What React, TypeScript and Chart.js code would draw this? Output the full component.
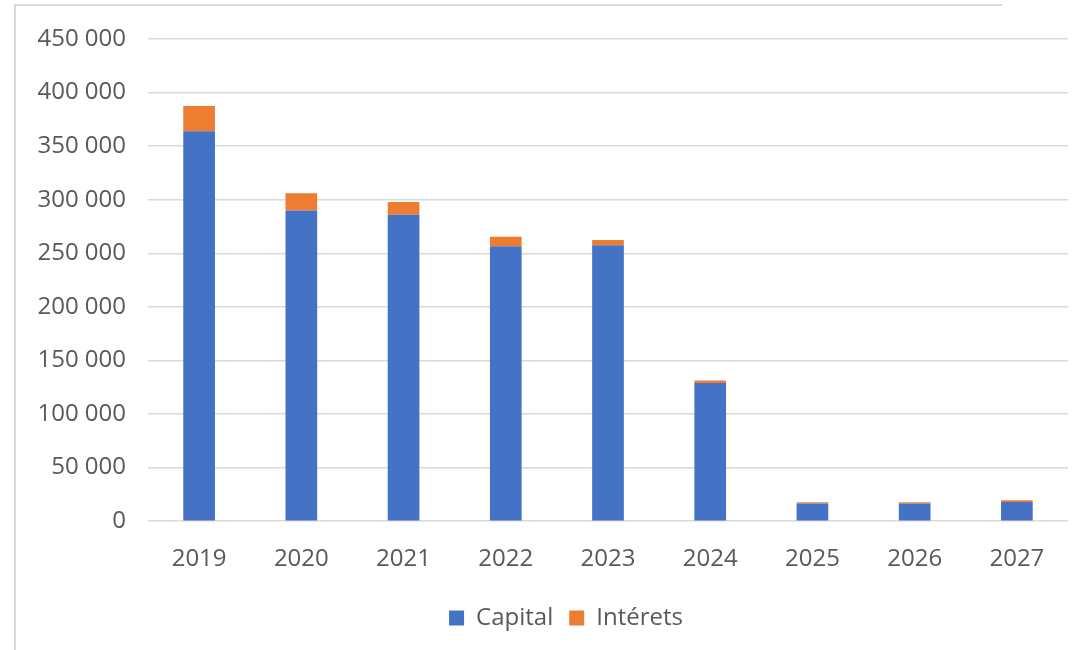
import React, { useEffect, useRef } from "react";
import { Chart, registerables } from "chart.js";

Chart.register(...registerables);

const categories = ["2019", "2020", "2021", "2022", "2023", "2024", "2025", "2026", "2027"];
const capital = [364000, 290000, 286000, 256500, 257500, 129000, 16500, 16500, 18000];
const interets = [23500, 16000, 12000, 9000, 5000, 2200, 1200, 1200, 1600];
const yTicks = [0, 50000, 100000, 150000, 200000, 250000, 300000, 350000, 400000, 450000];

const FONT = "'Open Sans', 'Liberation Sans', sans-serif";
const TEXT = "#595959";

function fmt(v: number): string {
  return String(v).replace(/\B(?=(\d{3})+(?!\d))/g, " ");
}

const legendShift = {
  id: "legendShift",
  afterLayout(chart: any) {
    const l = chart.legend;
    if (l) {
      l.left += 25;
      l.right += 25;
    }
  },
};

export default function App() {
  const ref = useRef<HTMLCanvasElement | null>(null);
  useEffect(() => {
    if (!ref.current) return;
    const chart = new Chart(ref.current, {
      type: "bar",
      data: {
        labels: categories,
        datasets: [
          { label: "Capital", data: capital, backgroundColor: "#4472C4", categoryPercentage: 1, barPercentage: 0.31 },
          { label: "Intérets", data: interets, backgroundColor: "#ED7D31", categoryPercentage: 1, barPercentage: 0.31 },
        ],
      },
      plugins: [legendShift],
      options: {
        animation: false,
        responsive: true,
        maintainAspectRatio: false,
        layout: { padding: { left: 14, right: 19, top: 39, bottom: 10 } },
        plugins: {
          tooltip: { enabled: false },
          legend: {
            position: "bottom",
            labels: {
              boxWidth: 15,
              boxHeight: 15,
              padding: 16,
              color: TEXT,
              font: { family: FONT, size: 24 },
            },
          },
        },
        scales: {
          x: {
            stacked: true,
            grid: { display: false },
            border: { display: false },
            ticks: { color: TEXT, font: { family: FONT, size: 24 }, padding: 16, maxRotation: 0 },
          },
          y: {
            stacked: true,
            min: 0,
            max: 450000,
            afterBuildTicks: (s: any) => {
              s.ticks = yTicks.map((v) => ({ value: v }));
            },
            afterFit: (s: any) => {
              s.width = 134;
            },
            grid: { color: "#d9d9d9", lineWidth: 1.5, drawTicks: false },
            border: { display: false },
            ticks: {
              color: TEXT,
              font: { family: FONT, size: 24 },
              padding: 22,
              callback: (v: any) => fmt(Number(v)),
            },
          },
        },
      },
    });
    return () => chart.destroy();
  }, []);

  return (
    <div style={{ position: "fixed", left: 0, top: 0, width: 1087, height: 650, background: "#fff" }}>
      <div
        style={{
          position: "absolute",
          left: 14,
          top: 4,
          width: 986,
          height: 646,
          borderTop: "2px solid #d9d9d9",
          borderLeft: "2px solid #d9d9d9",
        }}
      />
      <div style={{ position: "absolute", left: 0, top: 0, width: 1087, height: 650 }}>
        <canvas ref={ref} />
      </div>
    </div>
  );
}
